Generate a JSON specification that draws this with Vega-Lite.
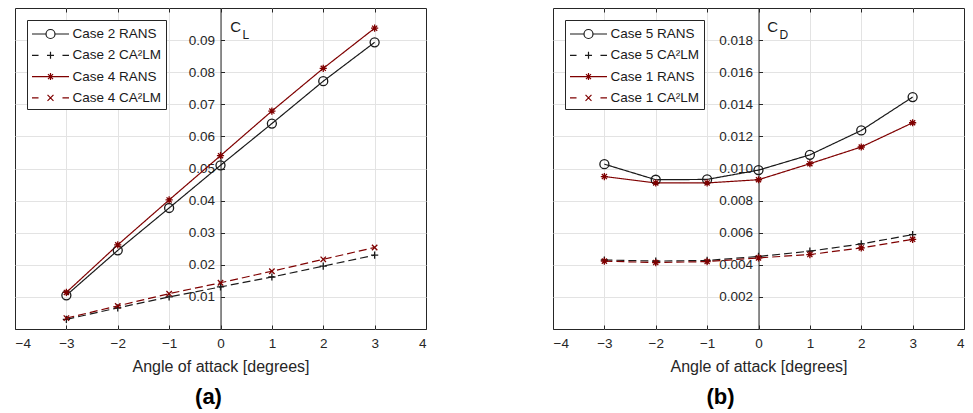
{
  "$schema": "https://vega.github.io/schema/vega-lite/v6.json",
  "padding": {"left": 14, "top": 7, "right": 4, "bottom": 2},
  "spacing": 125,
  "background": "white",
  "config": {
    "font": "Liberation Sans",
    "view": {"stroke": "#262626", "strokeWidth": 1},
    "axis": {"labelFont": "Liberation Sans", "labelFontSize": 13.5, "labelColor": "#262626", "tickColor": "#262626", "domainColor": "#262626", "gridColor": "#e3e3e3", "gridWidth": 1, "titleFont": "Liberation Sans", "titleFontWeight": "normal", "titleFontSize": 16, "titleColor": "#262626"},
    "legend": {"labelFont": "Liberation Sans", "labelFontSize": 13.5, "labelColor": "#1a1a1a"}
  },
  "resolve": {"scale": {"color": "independent", "stroke": "independent", "shape": "independent", "strokeDash": "independent"}},
  "hconcat": [
    {
      "width": 411,
      "height": 321,
      "title": {"text": "(a)", "orient": "bottom", "fontSize": 22, "fontWeight": "bold", "color": "#000000", "offset": 12, "dx": -12},
      "data": {"values": [
        {"series": "Case 2 RANS", "aoa": -3, "val": 0.0105},
        {"series": "Case 2 RANS", "aoa": -2, "val": 0.0245},
        {"series": "Case 2 RANS", "aoa": -1, "val": 0.0377},
        {"series": "Case 2 RANS", "aoa": 0, "val": 0.051},
        {"series": "Case 2 RANS", "aoa": 1, "val": 0.064},
        {"series": "Case 2 RANS", "aoa": 2, "val": 0.0772},
        {"series": "Case 2 RANS", "aoa": 3, "val": 0.0893},
        {"series": "Case 2 CA²LM", "aoa": -3, "val": 0.003},
        {"series": "Case 2 CA²LM", "aoa": -2, "val": 0.0066},
        {"series": "Case 2 CA²LM", "aoa": -1, "val": 0.01},
        {"series": "Case 2 CA²LM", "aoa": 0, "val": 0.0131},
        {"series": "Case 2 CA²LM", "aoa": 1, "val": 0.0162},
        {"series": "Case 2 CA²LM", "aoa": 2, "val": 0.0196},
        {"series": "Case 2 CA²LM", "aoa": 3, "val": 0.023},
        {"series": "Case 4 RANS", "aoa": -3, "val": 0.0114},
        {"series": "Case 4 RANS", "aoa": -2, "val": 0.0262},
        {"series": "Case 4 RANS", "aoa": -1, "val": 0.0402},
        {"series": "Case 4 RANS", "aoa": 0, "val": 0.054},
        {"series": "Case 4 RANS", "aoa": 1, "val": 0.0679},
        {"series": "Case 4 RANS", "aoa": 2, "val": 0.0812},
        {"series": "Case 4 RANS", "aoa": 3, "val": 0.0937},
        {"series": "Case 4 CA²LM", "aoa": -3, "val": 0.0034},
        {"series": "Case 4 CA²LM", "aoa": -2, "val": 0.0072},
        {"series": "Case 4 CA²LM", "aoa": -1, "val": 0.011},
        {"series": "Case 4 CA²LM", "aoa": 0, "val": 0.0144},
        {"series": "Case 4 CA²LM", "aoa": 1, "val": 0.018},
        {"series": "Case 4 CA²LM", "aoa": 2, "val": 0.0217},
        {"series": "Case 4 CA²LM", "aoa": 3, "val": 0.0254}
      ]},
      "resolve": {"axis": {"x": "independent"}},
      "layer": [
        {
          "mark": {"type": "line", "strokeWidth": 1.2},
          "encoding": {
            "x": {"field": "aoa", "type": "quantitative", "scale": {"domain": [-4, 4], "nice": false, "zero": false},
                  "axis": {"orient": "bottom", "values": [-4, -3, -2, -1, 0, 1, 2, 3, 4], "format": "d", "tickSize": -4, "labelPadding": 11, "grid": false, "domain": false, "title": "Angle of attack [degrees]", "titlePadding": 9}},
            "y": {"field": "val", "type": "quantitative", "scale": {"domain": [0, 0.1], "nice": false},
                  "axis": {"values": [0.01, 0.02, 0.03, 0.04, 0.05, 0.06, 0.07, 0.08, 0.09], "format": ".2f", "offset": -205.5, "tickSize": -4, "labelPadding": 10, "grid": true, "domain": true, "title": null}},
            "stroke": {"field": "series", "type": "nominal", "scale": {"domain": ["Case 2 RANS", "Case 4 RANS", "Case 2 CA²LM", "Case 4 CA²LM"], "range": ["#1a1a1a", "#7f0000", "#1a1a1a", "#7f0000"]}, "legend": null},
            "strokeDash": {"field": "series", "type": "nominal", "scale": {"domain": ["Case 2 RANS", "Case 4 RANS", "Case 2 CA²LM", "Case 4 CA²LM"], "range": [[1, 0], [1, 0], [8, 4], [8, 4]]}, "legend": null}
          }
        },
        {
          "mark": {"type": "point", "filled": false, "size": 81, "strokeWidth": 1.3, "opacity": 1},
          "encoding": {
            "x": {"field": "aoa", "type": "quantitative", "axis": null},
            "y": {"field": "val", "type": "quantitative"},
            "color": {"field": "series", "type": "nominal", "scale": {"domain": ["Case 2 RANS", "Case 2 CA²LM", "Case 4 RANS", "Case 4 CA²LM"], "range": ["#1a1a1a", "#1a1a1a", "#7f0000", "#7f0000"]},
                      "legend": {"title": null, "orient": "top-left", "offset": 12, "padding": 4, "strokeColor": "#262626", "fillColor": "white", "symbolSize": 324, "symbolStrokeWidth": 1.2, "symbolOffset": 9.5, "labelOffset": 12, "rowPadding": 4.3,
                                 "symbolType": {"expr": "datum.value === 'Case 2 RANS' ? 'M-2.056,0H-0.5M0.5,0H2.056M-0.5,0A0.5,0.5,0,1,1,0.5,0A0.5,0.5,0,1,1,-0.5,0' : datum.value === 'Case 2 CA²LM' ? 'M-2.056,0H-1.33M1.33,0H2.056M-0.39,0H0.39M0,-0.39V0.39' : datum.value === 'Case 4 RANS' ? 'M-2.056,0H2.056M0,-0.39V0.39M-0.28,-0.28L0.28,0.28M-0.28,0.28L0.28,-0.28' : 'M-2.056,0H-1.33M1.33,0H2.056M-0.33,-0.33L0.33,0.33M-0.33,0.33L0.33,-0.33'"},
                                 "encode": {"symbols": {"size": {"value": 324}, "shape": {"value": {"expr": "datum.value === 'Case 2 RANS' ? 'M-2.056,0H-0.5M0.5,0H2.056M-0.5,0A0.5,0.5,0,1,1,0.5,0A0.5,0.5,0,1,1,-0.5,0' : datum.value === 'Case 2 CA²LM' ? 'M-2.056,0H-1.33M1.33,0H2.056M-0.39,0H0.39M0,-0.39V0.39' : datum.value === 'Case 4 RANS' ? 'M-2.056,0H2.056M0,-0.39V0.39M-0.28,-0.28L0.28,0.28M-0.28,0.28L0.28,-0.28' : 'M-2.056,0H-1.33M1.33,0H2.056M-0.33,-0.33L0.33,0.33M-0.33,0.33L0.33,-0.33'"}}}}}},
            "shape": {"field": "series", "type": "nominal", "scale": {"domain": ["Case 4 CA²LM", "Case 4 RANS", "Case 2 CA²LM", "Case 2 RANS"], "range": ["M-0.6,-0.6L0.6,0.6M-0.6,0.6L0.6,-0.6", "M-0.8,0H0.8M0,-0.8V0.8M-0.57,-0.57L0.57,0.57M-0.57,0.57L0.57,-0.57", "M-0.8,0H0.8M0,-0.8V0.8", "circle"]}, "legend": null}
          }
        },
        {
          "data": {"values": [{"aoa": 0.19, "val": 0.0925, "txt": "C"}]},
          "mark": {"type": "text", "align": "left", "baseline": "alphabetic", "fontSize": 15, "color": "#1a1a1a"},
          "encoding": {
            "x": {"field": "aoa", "type": "quantitative", "axis": {"orient": "top", "values": [-3, -2, -1, 0, 1, 2, 3], "labels": false, "tickSize": -4, "grid": true, "domain": false, "title": null}},
            "y": {"field": "val", "type": "quantitative"},
            "text": {"field": "txt"}
          }
        },
        {
          "data": {"values": [{"aoa": 0.43, "val": 0.0903, "txt": "L"}]},
          "mark": {"type": "text", "align": "left", "baseline": "alphabetic", "fontSize": 12, "color": "#1a1a1a"},
          "encoding": {
            "x": {"field": "aoa", "type": "quantitative", "axis": null},
            "y": {"field": "val", "type": "quantitative"},
            "text": {"field": "txt"}
          }
        }
      ]
    },
    {
      "width": 411,
      "height": 321,
      "title": {"text": "(b)", "orient": "bottom", "fontSize": 22, "fontWeight": "bold", "color": "#000000", "offset": 12, "dx": -38},
      "data": {"values": [
        {"series": "Case 5 RANS", "aoa": -3, "val": 0.01027},
        {"series": "Case 5 RANS", "aoa": -2, "val": 0.0093},
        {"series": "Case 5 RANS", "aoa": -1, "val": 0.00932},
        {"series": "Case 5 RANS", "aoa": 0, "val": 0.0099},
        {"series": "Case 5 RANS", "aoa": 1, "val": 0.01085},
        {"series": "Case 5 RANS", "aoa": 2, "val": 0.01237},
        {"series": "Case 5 RANS", "aoa": 3, "val": 0.01445},
        {"series": "Case 5 CA²LM", "aoa": -3, "val": 0.0043},
        {"series": "Case 5 CA²LM", "aoa": -2, "val": 0.00423},
        {"series": "Case 5 CA²LM", "aoa": -1, "val": 0.00427},
        {"series": "Case 5 CA²LM", "aoa": 0, "val": 0.00452},
        {"series": "Case 5 CA²LM", "aoa": 1, "val": 0.00485},
        {"series": "Case 5 CA²LM", "aoa": 2, "val": 0.0053},
        {"series": "Case 5 CA²LM", "aoa": 3, "val": 0.00588},
        {"series": "Case 1 RANS", "aoa": -3, "val": 0.0095},
        {"series": "Case 1 RANS", "aoa": -2, "val": 0.0091},
        {"series": "Case 1 RANS", "aoa": -1, "val": 0.0091},
        {"series": "Case 1 RANS", "aoa": 0, "val": 0.0093},
        {"series": "Case 1 RANS", "aoa": 1, "val": 0.0103},
        {"series": "Case 1 RANS", "aoa": 2, "val": 0.01134},
        {"series": "Case 1 RANS", "aoa": 3, "val": 0.01285},
        {"series": "Case 1 CA²LM", "aoa": -3, "val": 0.00423},
        {"series": "Case 1 CA²LM", "aoa": -2, "val": 0.00414},
        {"series": "Case 1 CA²LM", "aoa": -1, "val": 0.0042},
        {"series": "Case 1 CA²LM", "aoa": 0, "val": 0.00443},
        {"series": "Case 1 CA²LM", "aoa": 1, "val": 0.00464},
        {"series": "Case 1 CA²LM", "aoa": 2, "val": 0.00505},
        {"series": "Case 1 CA²LM", "aoa": 3, "val": 0.00559}
      ]},
      "resolve": {"axis": {"x": "independent"}},
      "layer": [
        {
          "mark": {"type": "line", "strokeWidth": 1.2},
          "encoding": {
            "x": {"field": "aoa", "type": "quantitative", "scale": {"domain": [-4, 4], "nice": false, "zero": false},
                  "axis": {"orient": "bottom", "values": [-4, -3, -2, -1, 0, 1, 2, 3, 4], "format": "d", "tickSize": -4, "labelPadding": 11, "grid": false, "domain": false, "title": "Angle of attack [degrees]", "titlePadding": 9}},
            "y": {"field": "val", "type": "quantitative", "scale": {"domain": [0, 0.02], "nice": false},
                  "axis": {"values": [0.002, 0.004, 0.006, 0.008, 0.01, 0.012, 0.014, 0.016, 0.018], "format": ".3f", "offset": -205.5, "tickSize": -4, "labelPadding": 10, "grid": true, "domain": true, "title": null}},
            "stroke": {"field": "series", "type": "nominal", "scale": {"domain": ["Case 5 RANS", "Case 1 RANS", "Case 5 CA²LM", "Case 1 CA²LM"], "range": ["#1a1a1a", "#7f0000", "#1a1a1a", "#7f0000"]}, "legend": null},
            "strokeDash": {"field": "series", "type": "nominal", "scale": {"domain": ["Case 5 RANS", "Case 1 RANS", "Case 5 CA²LM", "Case 1 CA²LM"], "range": [[1, 0], [1, 0], [8, 4], [8, 4]]}, "legend": null}
          }
        },
        {
          "mark": {"type": "point", "filled": false, "size": 81, "strokeWidth": 1.3, "opacity": 1},
          "encoding": {
            "x": {"field": "aoa", "type": "quantitative", "axis": null},
            "y": {"field": "val", "type": "quantitative"},
            "color": {"field": "series", "type": "nominal", "scale": {"domain": ["Case 5 RANS", "Case 5 CA²LM", "Case 1 RANS", "Case 1 CA²LM"], "range": ["#1a1a1a", "#1a1a1a", "#7f0000", "#7f0000"]},
                      "legend": {"title": null, "orient": "top-left", "offset": 12, "padding": 4, "strokeColor": "#262626", "fillColor": "white", "symbolSize": 324, "symbolStrokeWidth": 1.2, "symbolOffset": 9.5, "labelOffset": 12, "rowPadding": 4.3,
                                 "symbolType": {"expr": "datum.value === 'Case 5 RANS' ? 'M-2.056,0H-0.5M0.5,0H2.056M-0.5,0A0.5,0.5,0,1,1,0.5,0A0.5,0.5,0,1,1,-0.5,0' : datum.value === 'Case 5 CA²LM' ? 'M-2.056,0H-1.33M1.33,0H2.056M-0.39,0H0.39M0,-0.39V0.39' : datum.value === 'Case 1 RANS' ? 'M-2.056,0H2.056M0,-0.39V0.39M-0.28,-0.28L0.28,0.28M-0.28,0.28L0.28,-0.28' : 'M-2.056,0H-1.33M1.33,0H2.056M-0.33,-0.33L0.33,0.33M-0.33,0.33L0.33,-0.33'"},
                                 "encode": {"symbols": {"size": {"value": 324}, "shape": {"value": {"expr": "datum.value === 'Case 5 RANS' ? 'M-2.056,0H-0.5M0.5,0H2.056M-0.5,0A0.5,0.5,0,1,1,0.5,0A0.5,0.5,0,1,1,-0.5,0' : datum.value === 'Case 5 CA²LM' ? 'M-2.056,0H-1.33M1.33,0H2.056M-0.39,0H0.39M0,-0.39V0.39' : datum.value === 'Case 1 RANS' ? 'M-2.056,0H2.056M0,-0.39V0.39M-0.28,-0.28L0.28,0.28M-0.28,0.28L0.28,-0.28' : 'M-2.056,0H-1.33M1.33,0H2.056M-0.33,-0.33L0.33,0.33M-0.33,0.33L0.33,-0.33'"}}}}}},
            "shape": {"field": "series", "type": "nominal", "scale": {"domain": ["Case 1 CA²LM", "Case 1 RANS", "Case 5 CA²LM", "Case 5 RANS"], "range": ["M-0.8,0H0.8M0,-0.8V0.8M-0.57,-0.57L0.57,0.57M-0.57,0.57L0.57,-0.57", "M-0.8,0H0.8M0,-0.8V0.8M-0.57,-0.57L0.57,0.57M-0.57,0.57L0.57,-0.57", "M-0.8,0H0.8M0,-0.8V0.8", "circle"]}, "legend": null}
          }
        },
        {
          "data": {"values": [{"aoa": 0.17, "val": 0.0185, "txt": "C"}]},
          "mark": {"type": "text", "align": "left", "baseline": "alphabetic", "fontSize": 15, "color": "#1a1a1a"},
          "encoding": {
            "x": {"field": "aoa", "type": "quantitative", "axis": {"orient": "top", "values": [-3, -2, -1, 0, 1, 2, 3], "labels": false, "tickSize": -4, "grid": true, "domain": false, "title": null}},
            "y": {"field": "val", "type": "quantitative"},
            "text": {"field": "txt"}
          }
        },
        {
          "data": {"values": [{"aoa": 0.41, "val": 0.01807, "txt": "D"}]},
          "mark": {"type": "text", "align": "left", "baseline": "alphabetic", "fontSize": 12, "color": "#1a1a1a"},
          "encoding": {
            "x": {"field": "aoa", "type": "quantitative", "axis": null},
            "y": {"field": "val", "type": "quantitative"},
            "text": {"field": "txt"}
          }
        }
      ]
    }
  ]
}
